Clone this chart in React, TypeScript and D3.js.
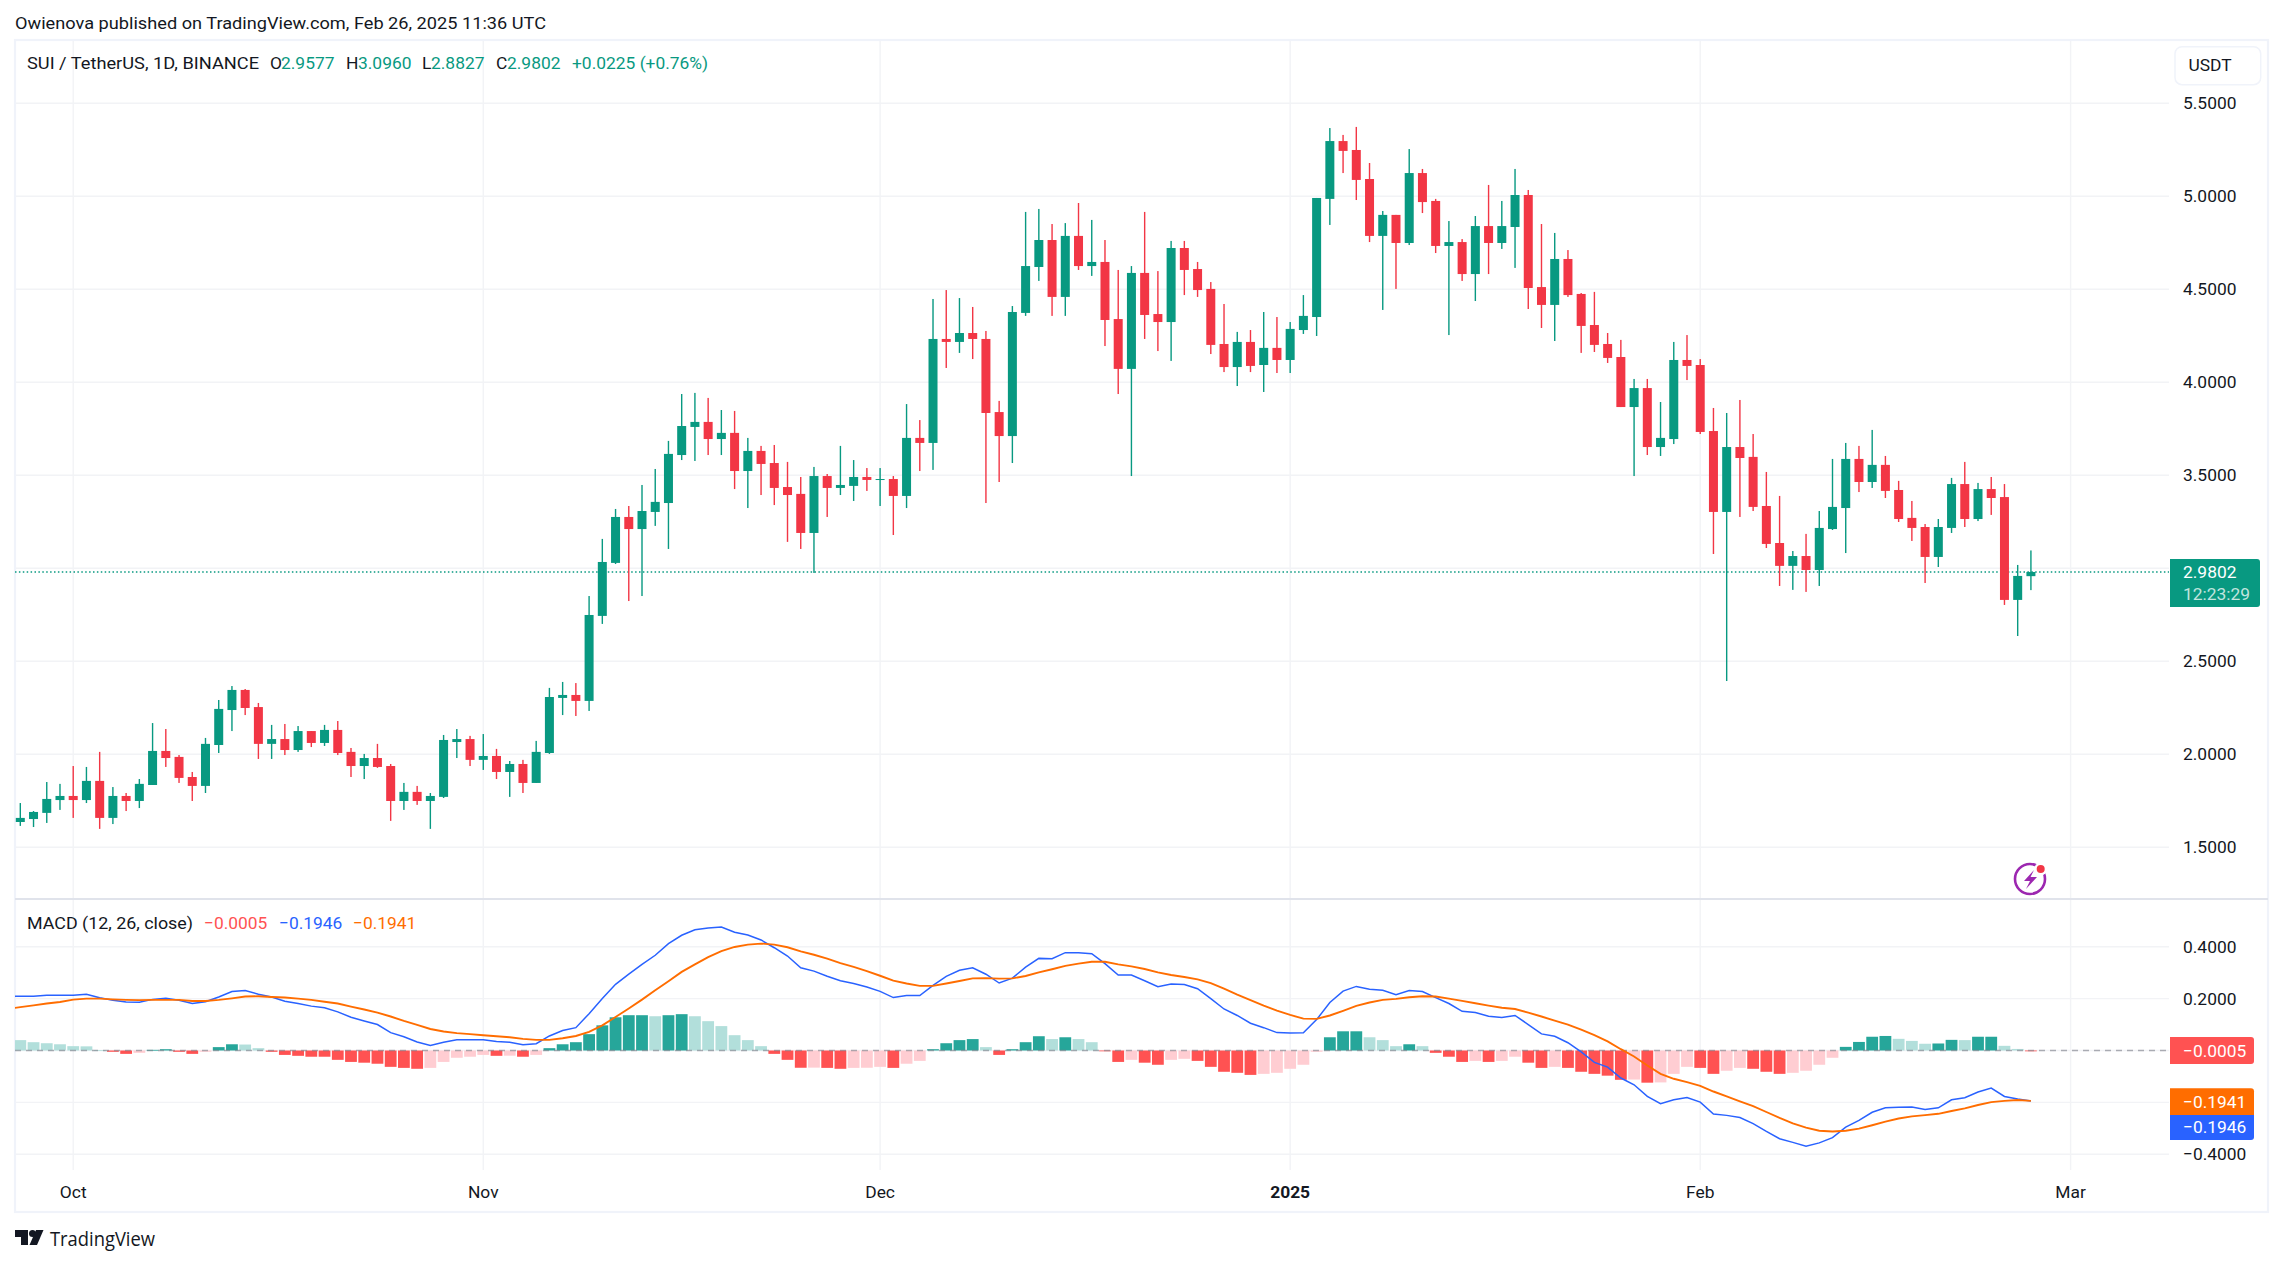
import * as d3 from 'd3';

const WIDTH = 2283;
const HEIGHT = 1265;

// daily candles, first one is 2024-09-27
const START_DATE = Date.UTC(2024, 8, 27);
const DAY_MS = 86400000;

const opens = [
  1.636, 1.652, 1.685, 1.754, 1.776, 1.754, 1.857, 1.658, 1.776, 1.749,
  1.835, 2.018, 1.986, 1.878, 1.830, 2.050, 2.238, 2.346, 2.254, 2.056,
  2.082, 2.023, 2.125, 2.061, 2.131, 2.013, 1.937, 1.980, 1.937, 1.749,
  1.798, 1.749, 1.771, 2.066, 2.082, 1.970, 1.991, 1.905, 1.948, 1.846,
  2.007, 2.303, 2.319, 2.287, 2.744, 3.029, 3.276, 3.211, 3.303, 3.351,
  3.609, 3.760, 3.787, 3.695, 3.728, 3.523, 3.631, 3.566, 3.437, 3.400,
  3.190, 3.496, 3.432, 3.443, 3.491, 3.475, 3.480, 3.389, 3.701, 3.674,
  4.233, 4.217, 4.265, 4.233, 3.840, 3.711, 4.373, 4.620, 4.765, 4.459,
  4.787, 4.625, 4.647, 4.340, 4.072, 4.588, 4.367, 4.324, 4.722, 4.609,
  4.502, 4.206, 4.082, 4.217, 4.093, 4.185, 4.120, 4.281, 4.351, 4.986,
  5.297, 5.249, 5.093, 4.787, 4.900, 4.749, 5.125, 4.975, 4.733, 4.754,
  4.582, 4.840, 4.749, 4.835, 5.007, 4.512, 4.416, 4.663, 4.475, 4.308,
  4.206, 4.136, 3.867, 3.969, 3.652, 3.695, 4.120, 4.093, 3.738, 3.303,
  3.652, 3.599, 3.335, 3.136, 3.013, 3.066, 2.991, 3.211, 3.324, 3.588,
  3.464, 3.556, 3.421, 3.271, 3.222, 3.061, 3.217, 3.453, 3.265, 3.426,
  3.383, 2.830, 2.9577,
];

const highs = [
  1.738, 1.695, 1.851, 1.841, 1.937, 1.932, 2.013, 1.824, 1.792, 1.867,
  2.168, 2.136, 1.996, 1.905, 2.088, 2.292, 2.367, 2.351, 2.276, 2.158,
  2.163, 2.152, 2.125, 2.158, 2.179, 2.034, 2.002, 2.056, 1.948, 1.846,
  1.830, 1.792, 2.104, 2.136, 2.099, 2.109, 2.029, 1.964, 1.970, 2.072,
  2.357, 2.389, 2.383, 2.851, 3.158, 3.319, 3.335, 3.448, 3.534, 3.685,
  3.937, 3.943, 3.916, 3.851, 3.846, 3.701, 3.658, 3.663, 3.572, 3.491,
  3.545, 3.507, 3.658, 3.582, 3.539, 3.539, 3.496, 3.883, 3.797, 4.448,
  4.496, 4.453, 4.405, 4.276, 3.900, 4.410, 4.916, 4.932, 4.851, 4.856,
  4.964, 4.873, 4.765, 4.604, 4.625, 4.916, 4.598, 4.760, 4.760, 4.647,
  4.539, 4.421, 4.271, 4.281, 4.378, 4.351, 4.324, 4.469, 4.991, 5.367,
  5.330, 5.373, 5.179, 4.921, 4.900, 5.254, 5.147, 4.986, 4.867, 4.770,
  4.894, 5.061, 4.975, 5.147, 5.034, 4.851, 4.803, 4.711, 4.480, 4.486,
  4.265, 4.228, 4.018, 4.018, 3.894, 4.217, 4.254, 4.125, 3.862, 3.835,
  3.905, 3.722, 3.518, 3.389, 3.093, 3.185, 3.308, 3.588, 3.674, 3.658,
  3.744, 3.604, 3.470, 3.362, 3.238, 3.265, 3.486, 3.572, 3.459, 3.491,
  3.453, 3.018, 3.096,
];

const lows = [
  1.615, 1.609, 1.631, 1.701, 1.658, 1.738, 1.599, 1.625, 1.695, 1.711,
  1.835, 1.932, 1.846, 1.749, 1.792, 2.007, 2.125, 2.211, 1.975, 1.975,
  1.996, 2.013, 2.039, 2.045, 1.996, 1.878, 1.867, 1.927, 1.642, 1.701,
  1.728, 1.599, 1.765, 1.980, 1.937, 1.916, 1.867, 1.771, 1.792, 1.846,
  2.002, 2.211, 2.206, 2.233, 2.701, 3.023, 2.824, 2.851, 3.228, 3.104,
  3.582, 3.577, 3.609, 3.609, 3.426, 3.324, 3.394, 3.340, 3.142, 3.104,
  2.975, 3.276, 3.394, 3.362, 3.416, 3.335, 3.179, 3.324, 3.523, 3.529,
  4.077, 4.158, 4.125, 3.351, 3.464, 3.566, 4.357, 4.545, 4.357, 4.357,
  4.604, 4.572, 4.195, 3.937, 3.496, 4.233, 4.168, 4.115, 4.469, 4.459,
  4.152, 4.055, 3.980, 4.055, 3.948, 4.050, 4.050, 4.260, 4.249, 4.846,
  5.125, 4.980, 4.754, 4.389, 4.502, 4.738, 4.910, 4.695, 4.254, 4.545,
  4.437, 4.582, 4.717, 4.615, 4.394, 4.292, 4.222, 4.459, 4.158, 4.163,
  4.104, 3.867, 3.496, 3.609, 3.604, 3.668, 4.012, 3.722, 3.077, 2.394,
  3.276, 3.308, 3.109, 2.905, 2.884, 2.873, 2.905, 3.206, 3.082, 3.410,
  3.432, 3.378, 3.249, 3.147, 2.921, 3.007, 3.190, 3.222, 3.254, 3.287,
  2.803, 2.636, 2.8827,
];

const closes = [
  1.658, 1.690, 1.760, 1.776, 1.754, 1.857, 1.658, 1.776, 1.749, 1.841,
  2.018, 1.980, 1.873, 1.830, 2.056, 2.244, 2.346, 2.249, 2.056, 2.082,
  2.023, 2.125, 2.061, 2.131, 2.007, 1.937, 1.980, 1.932, 1.749, 1.798,
  1.749, 1.776, 2.077, 2.082, 1.970, 1.991, 1.905, 1.948, 1.846, 2.013,
  2.308, 2.319, 2.287, 2.749, 3.034, 3.276, 3.211, 3.308, 3.357, 3.615,
  3.765, 3.787, 3.695, 3.728, 3.523, 3.631, 3.561, 3.432, 3.394, 3.190,
  3.496, 3.432, 3.448, 3.491, 3.475, 3.480, 3.389, 3.701, 3.674, 4.233,
  4.217, 4.265, 4.233, 3.835, 3.711, 4.378, 4.625, 4.765, 4.459, 4.787,
  4.625, 4.647, 4.335, 4.072, 4.588, 4.362, 4.324, 4.722, 4.604, 4.496,
  4.201, 4.082, 4.217, 4.088, 4.185, 4.120, 4.287, 4.357, 4.991, 5.297,
  5.244, 5.088, 4.787, 4.900, 4.749, 5.125, 4.969, 4.733, 4.754, 4.582,
  4.840, 4.749, 4.840, 5.007, 4.507, 4.416, 4.663, 4.469, 4.303, 4.201,
  4.131, 3.867, 3.969, 3.652, 3.701, 4.120, 4.088, 3.733, 3.303, 3.652,
  3.593, 3.330, 3.131, 3.013, 3.066, 2.991, 3.217, 3.330, 3.588, 3.464,
  3.556, 3.416, 3.265, 3.217, 3.061, 3.222, 3.453, 3.265, 3.426, 3.378,
  2.830, 2.959, 2.9802,
];

// the lines run off the left edge of the pane, so each has one point before the first candle
const macdLine = [
  0.209, 0.209, 0.209, 0.213, 0.213, 0.213, 0.217, 0.203, 0.194, 0.187, 0.186,
  0.197, 0.201, 0.194, 0.181, 0.188, 0.206, 0.227, 0.231, 0.217, 0.206,
  0.190, 0.181, 0.171, 0.165, 0.149, 0.128, 0.114, 0.100, 0.069, 0.053,
  0.033, 0.019, 0.032, 0.041, 0.041, 0.041, 0.035, 0.032, 0.022, 0.026,
  0.056, 0.077, 0.088, 0.142, 0.200, 0.255, 0.294, 0.332, 0.367, 0.412,
  0.444, 0.465, 0.472, 0.476, 0.456, 0.445, 0.426, 0.396, 0.364, 0.319,
  0.306, 0.286, 0.269, 0.258, 0.245, 0.228, 0.204, 0.212, 0.212, 0.251,
  0.286, 0.309, 0.319, 0.294, 0.260, 0.279, 0.321, 0.355, 0.354, 0.377,
  0.377, 0.373, 0.335, 0.291, 0.291, 0.269, 0.246, 0.256, 0.254, 0.238,
  0.200, 0.160, 0.135, 0.105, 0.088, 0.069, 0.067, 0.068, 0.119, 0.185,
  0.229, 0.247, 0.236, 0.232, 0.215, 0.231, 0.227, 0.204, 0.181, 0.151,
  0.146, 0.132, 0.127, 0.135, 0.100, 0.064, 0.055, 0.030, -0.005, -0.046,
  -0.064, -0.106, -0.132, -0.177, -0.205, -0.190, -0.181, -0.199, -0.245, -0.250,
  -0.258, -0.282, -0.312, -0.340, -0.354, -0.369, -0.356, -0.336, -0.295, -0.269,
  -0.238, -0.221, -0.219, -0.218, -0.227, -0.221, -0.190, -0.182, -0.160, -0.145,
  -0.177, -0.187, -0.1946,
];

const signalLine = [
  0.160, 0.167, 0.174, 0.181, 0.187, 0.196, 0.200, 0.200, 0.197, 0.195, 0.194,
  0.195, 0.195, 0.195, 0.191, 0.191, 0.195, 0.201, 0.208, 0.209, 0.206,
  0.204, 0.200, 0.195, 0.188, 0.181, 0.169, 0.158, 0.146, 0.131, 0.114,
  0.099, 0.083, 0.073, 0.067, 0.063, 0.059, 0.055, 0.051, 0.045, 0.041,
  0.041, 0.047, 0.056, 0.072, 0.097, 0.129, 0.162, 0.196, 0.232, 0.267,
  0.303, 0.332, 0.360, 0.383, 0.399, 0.408, 0.412, 0.408, 0.398, 0.382,
  0.369, 0.354, 0.337, 0.322, 0.306, 0.288, 0.269, 0.258, 0.249, 0.249,
  0.258, 0.268, 0.278, 0.279, 0.277, 0.278, 0.287, 0.301, 0.313, 0.326,
  0.335, 0.342, 0.342, 0.332, 0.324, 0.314, 0.301, 0.291, 0.283, 0.274,
  0.260, 0.238, 0.215, 0.194, 0.173, 0.154, 0.137, 0.123, 0.122, 0.135,
  0.153, 0.172, 0.185, 0.195, 0.199, 0.205, 0.209, 0.208, 0.200, 0.191,
  0.182, 0.173, 0.165, 0.160, 0.146, 0.131, 0.115, 0.100, 0.080, 0.059,
  0.035, 0.005, -0.023, -0.058, -0.090, -0.109, -0.122, -0.136, -0.158, -0.177,
  -0.196, -0.214, -0.237, -0.260, -0.281, -0.297, -0.309, -0.312, -0.309, -0.301,
  -0.288, -0.274, -0.262, -0.254, -0.249, -0.244, -0.233, -0.223, -0.210, -0.199,
  -0.194, -0.191, -0.1941,
];

const histogram = [
  0.040, 0.032, 0.028, 0.024, 0.0167, 0.016, 0.001, -0.005, -0.013, -0.009,
  0.0025, 0.005, -0.005, -0.013, -0.005, 0.013, 0.024, 0.023, 0.009, -0.005,
  -0.017, -0.0205, -0.024, -0.024, -0.036, -0.044, -0.047, -0.051, -0.063, -0.067,
  -0.0705, -0.067, -0.044, -0.028, -0.024, -0.017, -0.0205, -0.020, -0.024, -0.017,
  0.009, 0.024, 0.032, 0.063, 0.097, 0.128, 0.136, 0.136, 0.132, 0.136,
  0.140, 0.132, 0.113, 0.094, 0.059, 0.040, 0.0167, -0.013, -0.036, -0.0665,
  -0.066, -0.067, -0.0705, -0.067, -0.0665, -0.063, -0.067, -0.051, -0.040, 0.005,
  0.028, 0.040, 0.044, 0.013, -0.017, 0.005, 0.032, 0.055, 0.044, 0.051,
  0.044, 0.032, -0.003, -0.044, -0.036, -0.047, -0.055, -0.036, -0.032, -0.040,
  -0.063, -0.082, -0.086, -0.094, -0.090, -0.086, -0.0705, -0.055, -0.005, 0.051,
  0.074, 0.074, 0.051, 0.040, 0.0167, 0.024, 0.0167, -0.009, -0.024, -0.044,
  -0.040, -0.044, -0.040, -0.024, -0.047, -0.067, -0.063, -0.067, -0.082, -0.090,
  -0.097, -0.113, -0.112, -0.124, -0.123, -0.090, -0.063, -0.067, -0.090, -0.078,
  -0.067, -0.0705, -0.082, -0.090, -0.086, -0.078, -0.055, -0.028, 0.014, 0.033,
  0.053, 0.056, 0.045, 0.037, 0.026, 0.027, 0.041, 0.040, 0.053, 0.053,
  0.018, 0.006, -0.0005,
];

const priceTicks = [1.5, 2, 2.5, 3, 3.5, 4, 4.5, 5, 5.5];
const macdTicks = [-0.4, -0.2, 0, 0.2, 0.4];
const macdLabelTicks = [-0.4, 0.2, 0.4];
const timeTicks = [
  { date: Date.UTC(2024, 9, 1), label: 'Oct' },
  { date: Date.UTC(2024, 10, 1), label: 'Nov' },
  { date: Date.UTC(2024, 11, 1), label: 'Dec' },
  { date: Date.UTC(2025, 0, 1), label: '2025', bold: true },
  { date: Date.UTC(2025, 1, 1), label: 'Feb' },
  { date: Date.UTC(2025, 2, 1), label: 'Mar' },
];

const lastClose = 2.9802;
const lastHist = -0.0005;
const lastMacd = -0.1946;
const lastSignal = -0.1941;

const UP = '#089981';
const DOWN = '#f23645';
const GRID = '#f2f3f6';
const BORDER = '#f0f3fa';
const TEXT = '#131722';
const FONT = 'Roboto, sans-serif';

const frame = { left: 15, right: 2268, top: 40, bottom: 1212, axisX: 2169, paneSplit: 899, paneBottom: 1170 };

const x = d3.scaleUtc().domain([START_DATE, Date.UTC(2025, 2, 1)]).range([20.3, 2070.6]);
const yPrice = d3.scaleLinear().domain([2.5, 3]).range([661.3, 568.3]);
const yMacd = d3.scaleLinear().domain([0, 0.4]).range([1050.5, 946.7]);

const xAt = (i: number) => x(START_DATE + i * DAY_MS);

const histColor = (v: number, i: number) => {
  const prev = i > 0 ? histogram[i - 1] : Infinity;
  if (v >= 0) return v >= prev ? '#26a69a' : '#b2dfdb';
  return v <= prev ? '#ff5252' : '#ffcdd2';
};

const linePath = d3.line<number>().x((_, i) => xAt(i - 1)).y((d) => yMacd(d));

export default function App() {
  const bodyW = 9;
  const barW = 11.8;
  const lastY = yPrice(lastClose);
  const zeroY = yMacd(0);

  return (
    <svg
      width={WIDTH}
      height={HEIGHT}
      style={{ position: 'absolute', left: 0, top: 0, background: '#fff' }}
      fontFamily={FONT}
    >
      <defs>
        <clipPath id="pane">
          <rect x={frame.left} y={frame.top} width={frame.axisX - frame.left} height={frame.paneBottom - frame.top} />
        </clipPath>
      </defs>

      <text x={15} y={29} fontSize={17.4} fill={TEXT} textLength={531} lengthAdjust="spacingAndGlyphs">
        Owienova published on TradingView.com, Feb 26, 2025 11:36 UTC
      </text>

      {/* grid */}
      {timeTicks.map((t) => (
        <line key={t.label} x1={x(t.date)} x2={x(t.date)} y1={frame.top} y2={frame.paneBottom} stroke={GRID} strokeWidth={1.4} />
      ))}
      {priceTicks.map((p) => (
        <line key={p} x1={frame.left} x2={frame.axisX} y1={yPrice(p)} y2={yPrice(p)} stroke={GRID} strokeWidth={1.4} />
      ))}
      {macdTicks.map((p) => (
        <line key={p} x1={frame.left} x2={frame.axisX} y1={yMacd(p)} y2={yMacd(p)} stroke={GRID} strokeWidth={1.4} />
      ))}

      {/* frame */}
      <rect x={frame.left} y={frame.top} width={frame.right - frame.left} height={frame.bottom - frame.top} fill="none" stroke={BORDER} strokeWidth={2.2} />
      <line x1={frame.left} x2={frame.right} y1={frame.paneSplit} y2={frame.paneSplit} stroke="#e0e3eb" strokeWidth={1.8} />

      {/* last price line */}
      <line x1={frame.left} x2={frame.axisX} y1={lastY} y2={lastY} stroke={UP} strokeWidth={1.4} strokeDasharray="1.5 2.4" />

      {/* candles */}
      {closes.map((c, i) => {
        const o = opens[i];
        const color = c >= o ? UP : DOWN;
        const top = yPrice(Math.max(o, c));
        const bottom = yPrice(Math.min(o, c));
        return (
          <g key={i} fill={color}>
            <rect x={xAt(i) - 0.7} width={1.4} y={yPrice(highs[i])} height={yPrice(lows[i]) - yPrice(highs[i])} />
            <rect x={xAt(i) - bodyW / 2} width={bodyW} y={top} height={Math.max(bottom - top, 1)} />
          </g>
        );
      })}

      {/* histogram */}
      <g clipPath="url(#pane)">
        {histogram.map((v, i) => {
          const y0 = yMacd(Math.max(v, 0));
          const y1 = yMacd(Math.min(v, 0));
          return <rect key={i} x={xAt(i) - barW / 2} width={barW} y={y0} height={Math.max(y1 - y0, 0.8)} fill={histColor(v, i)} />;
        })}
        <line x1={frame.left} x2={frame.axisX} y1={zeroY} y2={zeroY} stroke="#787b86" strokeOpacity={0.6} strokeWidth={1.4} strokeDasharray="6 5" />

        <path d={linePath(macdLine) ?? ''} fill="none" stroke="#2962ff" strokeWidth={1.5} />
        <path d={linePath(signalLine) ?? ''} fill="none" stroke="#ff6d00" strokeWidth={1.9} />
      </g>

      {/* legends */}
      <g fontSize={17.4}>
        <text x={27} y={69} fill={TEXT} textLength={232} lengthAdjust="spacingAndGlyphs">SUI / TetherUS, 1D, BINANCE</text>
        <text x={270} y={69} fill={TEXT}>O</text>
        <text x={281} y={69} fill={UP}>2.9577</text>
        <text x={346} y={69} fill={TEXT}>H</text>
        <text x={358} y={69} fill={UP}>3.0960</text>
        <text x={422} y={69} fill={TEXT}>L</text>
        <text x={431} y={69} fill={UP}>2.8827</text>
        <text x={496} y={69} fill={TEXT}>C</text>
        <text x={507} y={69} fill={UP}>2.9802</text>
        <text x={572} y={69} fill={UP}>+0.0225 (+0.76%)</text>

        <text x={27} y={929} fill={TEXT} textLength={166} lengthAdjust="spacingAndGlyphs">MACD (12, 26, close)</text>
        <text x={204} y={929} fill="#ff5252">−0.0005</text>
        <text x={279} y={929} fill="#2962ff">−0.1946</text>
        <text x={353} y={929} fill="#ff6d00">−0.1941</text>
      </g>

      {/* price axis */}
      <g fontSize={17.4} fill={TEXT} dominantBaseline="central">
        {priceTicks.filter((p) => p !== 3).map((p) => (
          <text key={p} x={2183} y={yPrice(p)}>{p.toFixed(4)}</text>
        ))}
        {macdLabelTicks.map((p) => (
          <text key={p} x={2183} y={yMacd(p)}>{p.toFixed(4).replace('-', '−')}</text>
        ))}
      </g>

      <rect x={2175} y={46.7} width={85.7} height={38} rx={7} fill="#fff" stroke={BORDER} strokeWidth={1.5} />
      <text x={2210} y={65} fontSize={17.4} fill={TEXT} textAnchor="middle" dominantBaseline="central">USDT</text>

      {/* last value tags */}
      <path d="M2170,559 H2257 a3,3 0 0 1 3,3 V604 a3,3 0 0 1 -3,3 H2170 Z" fill={UP} />
      <text x={2183} y={572} fontSize={17.4} fill="#fff" dominantBaseline="central">{lastClose.toFixed(4)}</text>
      <text x={2183} y={594} fontSize={17.4} fill="#fff" fillOpacity={0.75} dominantBaseline="central">12:23:29</text>

      <path d="M2170,1037 H2251 a3,3 0 0 1 3,3 V1061 a3,3 0 0 1 -3,3 H2170 Z" fill="#ff5252" />
      <text x={2183} y={1051} fontSize={17.4} fill="#fff" dominantBaseline="central">{lastHist.toFixed(4).replace('-', '−')}</text>
      <path d="M2170,1088.3 H2251 a3,3 0 0 1 3,3 V1115 H2170 Z" fill="#ff6d00" />
      <text x={2183} y={1102} fontSize={17.4} fill="#fff" dominantBaseline="central">{lastSignal.toFixed(4).replace('-', '−')}</text>
      <path d="M2170,1115 H2254 V1137 a3,3 0 0 1 -3,3 H2170 Z" fill="#2962ff" />
      <text x={2183} y={1127} fontSize={17.4} fill="#fff" dominantBaseline="central">{lastMacd.toFixed(4).replace('-', '−')}</text>

      {/* time axis */}
      <g fontSize={17.4} fill={TEXT} textAnchor="middle" dominantBaseline="central">
        {timeTicks.map((t) => (
          <text key={t.label} x={x(t.date)} y={1192} fontWeight={t.bold ? 700 : 400}>{t.label}</text>
        ))}
      </g>

      {/* dividends / earnings style marker */}
      <g>
        <circle cx={2030} cy={879} r={15} fill="none" stroke="#9c27b0" strokeWidth={2.6} />
        <circle cx={2040.7} cy={869} r={6.5} fill="#fff" />
        <circle cx={2040.7} cy={869} r={4} fill="#f23645" />
        <path d="M2034,870 L2024,881 H2030 L2026,889 L2037,877 H2030.5 Z" fill="#9c27b0" />
      </g>

      {/* logo */}
      <g fill={TEXT}>
        <path d="M15,1230 H28 V1245 H21 V1237 H15 Z" />
        <circle cx={32.5} cy={1233.5} r={3.5} />
        <path d="M36,1230 H43.5 L37,1245 H29.5 Z" />
        <text x={50} y={1246} fontSize={20} fontFamily="'Open Sans', sans-serif" textLength={105} lengthAdjust="spacingAndGlyphs">TradingView</text>
      </g>
    </svg>
  );
}
